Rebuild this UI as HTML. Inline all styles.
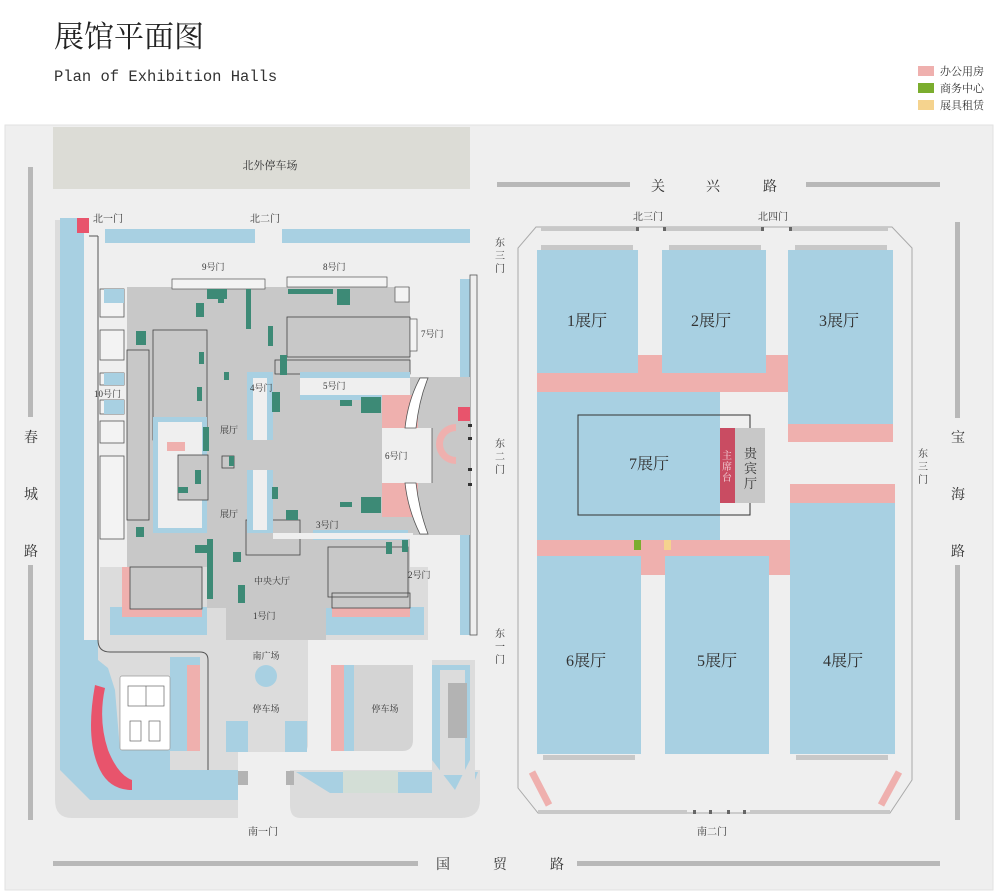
<!DOCTYPE html>
<html><head><meta charset="utf-8"><style>
html,body{margin:0;padding:0;background:#fff}
svg{display:block}
text{font-family:"Liberation Serif","Noto Serif CJK SC",serif;fill:#333}
.s{font-size:10px}
.h{font-size:16px}
</style></head><body>
<svg width="1000" height="895" viewBox="0 0 1000 895" xmlns="http://www.w3.org/2000/svg">
<rect width="1000" height="895" fill="#fff"/>
<text x="54" y="47" style="font-size:30px;fill:#222">展馆平面图</text>
<text x="54" y="81" style="font-family:'Liberation Mono',monospace;font-size:15.5px;fill:#333">Plan of Exhibition Halls</text>
<rect x="918" y="66" width="16" height="10" fill="#efb0ae"/>
<rect x="918" y="83" width="16" height="10" fill="#7bad2e"/>
<rect x="918" y="100" width="16" height="10" fill="#f5d38e"/>
<text x="940" y="75" class="s" style="font-size:11px">办公用房</text>
<text x="940" y="92" class="s" style="font-size:11px">商务中心</text>
<text x="940" y="109" class="s" style="font-size:11px">展具租赁</text>

<rect x="5" y="125" width="988" height="765" fill="#efefef" stroke="#e2e2e2"/>
<rect x="53" y="127" width="417" height="62" fill="#dcdcd6"/>
<text x="270" y="169" text-anchor="middle" class="s" style="font-size:11px">北外停车场</text>

<!-- roads -->
<g fill="#b8b8b8">
<rect x="497" y="182" width="133" height="5"/><rect x="806" y="182" width="134" height="5"/>
<rect x="28" y="167" width="5" height="250"/><rect x="28" y="565" width="5" height="255"/>
<rect x="955" y="222" width="5" height="196"/><rect x="955" y="565" width="5" height="255"/>
<rect x="53" y="861" width="365" height="5"/><rect x="577" y="861" width="363" height="5"/>
</g>
<g style="font-size:14px">
<text x="658" y="191" text-anchor="middle">关</text><text x="713" y="191" text-anchor="middle">兴</text><text x="770" y="191" text-anchor="middle">路</text>
<text x="31" y="442" text-anchor="middle">春</text><text x="31" y="499" text-anchor="middle">城</text><text x="31" y="556" text-anchor="middle">路</text>
<text x="958" y="442" text-anchor="middle">宝</text><text x="958" y="499" text-anchor="middle">海</text><text x="958" y="556" text-anchor="middle">路</text>
<text x="443" y="869" text-anchor="middle">国</text><text x="500" y="869" text-anchor="middle">贸</text><text x="557" y="869" text-anchor="middle">路</text>
</g>

<!-- LEFT COMPLEX -->
<path d="M55 220 H84 V640 H238 V818 H72 Q55 818 55 800 Z" fill="#dcdcdc"/>
<rect x="60" y="218" width="24" height="430" fill="#a8d0e2"/>
<path d="M60 640 H98 V660 L108 668 L115 690 L120 750 H170 V770 H238 V800 H90 L60 770 Z" fill="#a8d0e2"/>
<path d="M290 770 H480 V800 Q480 818 460 818 H300 Q290 818 290 805 Z" fill="#dcdcdc"/>
<path d="M296 772 H478 L470 793 H330 Z" fill="#a8d0e2"/>
<rect x="343" y="771" width="55" height="22" fill="#d3ded6"/>
<rect x="238" y="771" width="10" height="14" fill="#b3b3b3"/><rect x="286" y="771" width="8" height="14" fill="#b3b3b3"/>
<rect x="77" y="218" width="12" height="15" fill="#e8546c"/>
<rect x="105" y="229" width="150" height="14" fill="#a8d0e2"/>
<rect x="282" y="229" width="188" height="14" fill="#a8d0e2"/>
<path d="M89 236 H98 M98 236 V640 Q98 652 110 652 H200 Q208 652 208 660 V770" fill="none" stroke="#555" stroke-width="1"/>
<rect x="460" y="279" width="10" height="356" fill="#a8d0e2"/>
<rect x="470" y="275" width="7" height="360" fill="none" stroke="#555" stroke-width="0.8"/>
<text x="93" y="222" class="s">北一门</text>
<text x="250" y="222" class="s">北二门</text>
<g class="s"><text x="495" y="246">东</text><text x="495" y="259">三</text><text x="495" y="272">门</text>
<text x="495" y="447">东</text><text x="495" y="460">二</text><text x="495" y="473">门</text>
<text x="495" y="637">东</text><text x="495" y="650">一</text><text x="495" y="663">门</text></g>

<!-- lower light gray band -->
<rect x="100" y="567" width="328" height="73" fill="#dcdcdc"/>
<rect x="110" y="607" width="97" height="28" fill="#a8d0e2"/>
<rect x="326" y="607" width="98" height="28" fill="#a8d0e2"/>
<!-- main gray body -->
<path d="M127 287 H410 V377 H470 V535 H410 V608 H326 V640 H226 V608 H207 V567 H127 Z" fill="#c8c8c8"/>
<rect x="122" y="567" width="80" height="50" fill="#efb0ae"/>
<rect x="130" y="567" width="72" height="42" fill="#c8c8c8" stroke="#444" stroke-width="0.8"/>
<rect x="332" y="593" width="78" height="24" fill="#efb0ae"/>
<rect x="332" y="593" width="78" height="15" fill="#c8c8c8" stroke="#444" stroke-width="0.8"/>
<!-- left small rooms -->
<g fill="#f3f3f3" stroke="#555" stroke-width="0.8">
<rect x="100" y="289" width="24" height="28"/><rect x="100" y="330" width="24" height="30"/>
<rect x="100" y="373" width="24" height="12"/><rect x="100" y="400" width="24" height="14"/>
<rect x="100" y="421" width="24" height="22"/><rect x="100" y="456" width="24" height="83"/>
</g>
<g fill="#a8d0e2"><rect x="104" y="289" width="20" height="14"/><rect x="104" y="373" width="20" height="12"/><rect x="104" y="400" width="20" height="14"/></g>
<g fill="none" stroke="#444" stroke-width="0.8">
<rect x="153" y="330" width="54" height="110"/><rect x="127" y="350" width="22" height="170"/>
<rect x="246" y="520" width="54" height="35"/><rect x="328" y="547" width="80" height="50"/>
<rect x="287" y="317" width="123" height="40"/><rect x="275" y="360" width="135" height="14"/>
<rect x="222" y="456" width="12" height="12"/>
</g>
<!-- courts & corridors -->
<rect x="153" y="417" width="54" height="116" fill="#a8d0e2"/>
<rect x="158" y="422" width="44" height="106" fill="#efefef"/>
<rect x="167" y="442" width="18" height="9" fill="#efb0ae"/>
<rect x="178" y="455" width="30" height="45" fill="#c8c8c8" stroke="#444" stroke-width="0.8"/>
<rect x="247" y="372" width="26" height="68" fill="#a8d0e2"/><rect x="253" y="378" width="14" height="62" fill="#efefef"/>
<rect x="247" y="470" width="26" height="63" fill="#a8d0e2"/><rect x="253" y="470" width="14" height="60" fill="#efefef"/>
<rect x="300" y="377" width="110" height="23" fill="#efefef"/>
<rect x="300" y="372" width="110" height="6" fill="#a8d0e2"/>
<rect x="300" y="395" width="110" height="5" fill="#a8d0e2"/>
<rect x="313" y="530" width="95" height="10" fill="#a8d0e2"/>
<rect x="273" y="533" width="140" height="6" fill="#efefef"/>
<!-- north annexes -->
<g fill="#f3f3f3" stroke="#555" stroke-width="0.7">
<rect x="172" y="279" width="93" height="10"/><rect x="287" y="277" width="100" height="10"/><rect x="395" y="287" width="14" height="15"/>
<rect x="410" y="319" width="7" height="32"/>
</g>
<!-- 6号门 section -->
<rect x="382" y="395" width="36" height="122" fill="#efb0ae"/>
<rect x="382" y="428" width="50" height="55" fill="#efefef"/>
<path d="M420 378 Q408 400 405 428 L416 428 Q419 400 428 378 Z" fill="#fff" stroke="#555" stroke-width="0.8"/>
<path d="M405 483 Q408 510 420 534 L428 534 Q419 510 416 483 Z" fill="#fff" stroke="#555" stroke-width="0.8"/>
<line x1="432" y1="428" x2="432" y2="483" stroke="#555" stroke-width="0.8"/>
<path d="M456 424 A20 20 0 0 0 456 464 L456 457 A13 13 0 0 1 456 431 Z" fill="#efb0ae"/>
<rect x="458" y="407" width="12" height="14" fill="#e8546c"/>
<g fill="#333"><rect x="468" y="424" width="4" height="3"/><rect x="468" y="437" width="4" height="3"/><rect x="468" y="468" width="4" height="3"/><rect x="468" y="483" width="4" height="3"/></g>
<!-- greens -->
<g fill="#3d8a76">
<rect x="207" y="289" width="20" height="10"/><rect x="196" y="303" width="8" height="14"/><rect x="246" y="289" width="5" height="40"/>
<rect x="268" y="326" width="5" height="20"/><rect x="280" y="355" width="7" height="20"/>
<rect x="288" y="289" width="45" height="5"/><rect x="337" y="289" width="13" height="16"/>
<rect x="136" y="331" width="10" height="14"/><rect x="199" y="352" width="5" height="12"/>
<rect x="224" y="372" width="5" height="8"/><rect x="197" y="387" width="5" height="14"/>
<rect x="203" y="427" width="6" height="24"/><rect x="195" y="470" width="6" height="14"/>
<rect x="229" y="456" width="5" height="10"/><rect x="272" y="392" width="8" height="20"/>
<rect x="340" y="400" width="12" height="6"/><rect x="361" y="397" width="20" height="16"/>
<rect x="361" y="497" width="20" height="16"/><rect x="340" y="502" width="12" height="5"/>
<rect x="272" y="487" width="6" height="12"/><rect x="286" y="510" width="12" height="10"/>
<rect x="136" y="527" width="8" height="10"/><rect x="207" y="539" width="6" height="60"/>
<rect x="233" y="552" width="8" height="10"/><rect x="238" y="585" width="7" height="18"/>
<rect x="195" y="545" width="12" height="8"/><rect x="178" y="487" width="10" height="6"/>
<rect x="386" y="542" width="6" height="12"/><rect x="402" y="540" width="6" height="12"/>
<rect x="218" y="298" width="6" height="5"/>
</g>
<g class="s" style="font-size:9px">
<text x="202" y="270">9号门</text><text x="323" y="270">8号门</text><text x="421" y="337">7号门</text>
<text x="250" y="391">4号门</text><text x="323" y="389">5号门</text><text x="94" y="397">10号门</text>
<text x="385" y="459">6号门</text><text x="316" y="528">3号门</text><text x="408" y="578">2号门</text>
<text x="253" y="619">1号门</text><text x="220" y="433">展厅</text><text x="220" y="517">展厅</text>
<text x="254" y="584">中央大厅</text></g>

<!-- south plaza -->
<path d="M226 640 H308 V745 Q308 752 300 752 H232 Q226 752 226 745 Z" fill="#dcdcdc"/>
<circle cx="266" cy="676" r="11" fill="#a8d0e2"/>
<rect x="226" y="721" width="22" height="31" fill="#a8d0e2"/><rect x="285" y="721" width="22" height="31" fill="#a8d0e2"/>
<text x="266" y="659" text-anchor="middle" class="s" style="font-size:9px">南广场</text>
<text x="266" y="712" text-anchor="middle" class="s" style="font-size:9px">停车场</text>
<rect x="331" y="665" width="13" height="86" fill="#efb0ae"/>
<rect x="344" y="665" width="10" height="86" fill="#a8d0e2"/>
<path d="M354 665 H413 V740 Q413 751 402 751 H354 Z" fill="#d4d4d4"/>
<text x="385" y="712" text-anchor="middle" class="s" style="font-size:9px">停车场</text>
<path d="M432 660 H475 V800 Q475 818 458 818 H432 Z" fill="#dcdcdc"/>
<path d="M432 665 H470 V760 L455 790 L432 760 Z" fill="#a8d0e2"/>
<rect x="440" y="670" width="25" height="105" fill="#dcdcdc"/>
<rect x="448" y="683" width="19" height="55" fill="#b3b3b3"/>
<!-- SW lake -->
<rect x="170" y="657" width="30" height="94" fill="#a8d0e2"/>
<rect x="187" y="665" width="13" height="86" fill="#efb0ae"/>
<rect x="120" y="676" width="50" height="74" rx="2" fill="#fff" stroke="#999" stroke-width="0.7"/>
<g fill="none" stroke="#666" stroke-width="0.7"><rect x="128" y="686" width="36" height="20"/><line x1="146" y1="686" x2="146" y2="706"/><rect x="130" y="721" width="11" height="20"/><rect x="149" y="721" width="11" height="20"/></g>
<path d="M95 685 L105 688 Q98 720 108 750 Q118 775 132 780 V790 Q110 790 100 770 Q85 740 95 685 Z" fill="#e8546c"/>
<text x="248" y="835" class="s">南一门</text>

<!-- RIGHT COMPLEX -->
<path d="M536 227 H892 L912 248 V780 L890 813 H538 L518 788 V248 Z" fill="#efefef" stroke="#aaa" stroke-width="1"/>
<g fill="#c8c8c8">
<rect x="541" y="227" width="96" height="4"/><rect x="664" y="227" width="98" height="4"/><rect x="790" y="227" width="98" height="4"/>
<rect x="541" y="245" width="92" height="5"/><rect x="669" y="245" width="92" height="5"/><rect x="795" y="245" width="92" height="5"/>
<rect x="543" y="755" width="92" height="5"/><rect x="796" y="755" width="92" height="5"/>
<rect x="538" y="810" width="149" height="4"/><rect x="750" y="810" width="140" height="4"/>
</g>
<g fill="#666"><rect x="636" y="227" width="3" height="4"/><rect x="663" y="227" width="3" height="4"/><rect x="761" y="227" width="3" height="4"/><rect x="789" y="227" width="3" height="4"/>
<rect x="693" y="810" width="3" height="4"/><rect x="709" y="810" width="3" height="4"/><rect x="727" y="810" width="3" height="4"/><rect x="743" y="810" width="3" height="4"/></g>
<g fill="#efb0ae">
<rect x="537" y="355" width="251" height="37"/>
<rect x="788" y="424" width="105" height="18"/>
<rect x="790" y="484" width="105" height="19"/>
<rect x="537" y="540" width="253" height="35"/>
</g>
<g fill="#a8d0e2">
<rect x="537" y="250" width="101" height="123"/><rect x="662" y="250" width="104" height="123"/><rect x="788" y="250" width="105" height="174"/>
<rect x="537" y="392" width="183" height="148"/>
<rect x="537" y="556" width="104" height="198"/><rect x="665" y="556" width="104" height="198"/><rect x="790" y="503" width="105" height="251"/>
</g>
<rect x="578" y="415" width="172" height="100" fill="none" stroke="#333" stroke-width="1"/>
<rect x="720" y="428" width="15" height="75" fill="#c94c62"/>
<rect x="735" y="428" width="30" height="75" fill="#c8c8c8"/>
<rect x="634" y="540" width="7" height="10" fill="#7bad2e"/><rect x="664" y="540" width="7" height="10" fill="#f5d38e"/>
<g stroke="#efb0ae" stroke-width="7"><line x1="532" y1="772" x2="549" y2="805"/><line x1="899" y1="772" x2="881" y2="805"/></g>
<g class="h">
<text x="587" y="326" text-anchor="middle">1展厅</text><text x="711" y="326" text-anchor="middle">2展厅</text><text x="839" y="326" text-anchor="middle">3展厅</text>
<text x="649" y="469" text-anchor="middle">7展厅</text>
<text x="586" y="666" text-anchor="middle">6展厅</text><text x="717" y="666" text-anchor="middle">5展厅</text><text x="843" y="666" text-anchor="middle">4展厅</text>
</g>
<g class="s" style="fill:#f5dbe0;font-size:10px"><text x="722" y="459" style="fill:#f5dbe0">主</text><text x="722" y="470" style="fill:#f5dbe0">席</text><text x="722" y="481" style="fill:#f5dbe0">台</text></g>
<g style="font-size:13px"><text x="744" y="458">贵</text><text x="744" y="473">宾</text><text x="744" y="488">厅</text></g>
<g class="s"><text x="633" y="220">北三门</text><text x="758" y="220">北四门</text><text x="697" y="835">南二门</text>
<text x="918" y="457">东</text><text x="918" y="470">三</text><text x="918" y="483">门</text></g>
</svg>
</body></html>
